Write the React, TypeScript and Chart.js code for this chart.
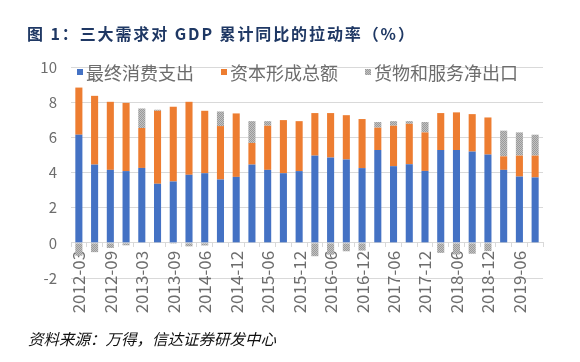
import React, { useEffect, useRef } from 'react';
import { Chart, registerables } from 'chart.js';

Chart.register(...registerables);

const categories = [
  '2012-03', '2012-06', '2012-09', '2012-12',
  '2013-03', '2013-06', '2013-09', '2013-12',
  '2014-06', '2014-09', '2014-12',
  '2015-03', '2015-06', '2015-09', '2015-12',
  '2016-03', '2016-06', '2016-09', '2016-12',
  '2017-03', '2017-06', '2017-09', '2017-12',
  '2018-03', '2018-06', '2018-09', '2018-12',
  '2019-03', '2019-06', '2019-09',
];

const consumption = [
  6.15, 4.45, 4.15, 4.08,
  4.26, 3.36, 3.49, 3.87,
  3.96, 3.6, 3.75,
  4.45, 4.15, 3.96, 4.08,
  4.96, 4.85, 4.74, 4.25,
  5.28, 4.36, 4.47, 4.09,
  5.28, 5.28, 5.19, 5.02,
  4.15, 3.77, 3.72,
];

const capitalFormation = [
  2.68, 3.91, 3.87, 3.88,
  2.27, 4.15, 4.25, 4.15,
  3.55, 3.04, 3.61,
  1.23, 2.51, 3.02, 2.84,
  2.42, 2.53, 2.52, 2.79,
  1.27, 2.3, 2.3, 2.19,
  2.1, 2.14, 2.13, 2.11,
  0.77, 1.19, 1.24,
];

const netExports = [
  -0.73, -0.53, -0.29, -0.14,
  1.11, 0.06, -0.05, -0.2,
  -0.15, 0.83, 0,
  1.24, 0.26, -0.03, -0.03,
  -0.76, -0.67, -0.48, -0.44,
  0.32, 0.26, 0.15, 0.59,
  -0.57, -0.66, -0.62, -0.47,
  1.46, 1.32, 1.19,
];

const seriesNames = ['最终消费支出', '资本形成总额', '货物和服务净出口'];
const yMin = -2;
const yMax = 10;
const yStep = 2;

const titleText = '图 1：三大需求对 GDP 累计同比的拉动率（%）';
const sourceText = '资料来源：万得，信达证券研发中心';

const FONT = '"Noto Sans CJK SC", "Noto Sans", sans-serif';
const TICK_COLOR = '#6d6d6d';
const GRID_COLOR = '#d9d9d9';

function makeDotPattern(): CanvasPattern | string {
  const c = document.createElement('canvas');
  c.width = 2;
  c.height = 2;
  const g = c.getContext('2d');
  if (!g) return '#a5a5a5';
  g.fillStyle = '#c2c2c2';
  g.fillRect(0, 0, 2, 2);
  g.fillStyle = '#9a9a9a';
  g.fillRect(0, 0, 1, 1);
  g.fillRect(1, 1, 1, 1);
  return g.createPattern(c, 'repeat') || '#a5a5a5';
}

const overlayPlugin = {
  id: 'overlayTexts',
  afterDraw(chart: any) {
    const ctx: CanvasRenderingContext2D = chart.ctx;
    ctx.save();
    ctx.textBaseline = 'middle';
    ctx.textAlign = 'left';

    // Title
    ctx.fillStyle = '#1f3864';
    ctx.font = `bold 16px ${FONT}`;
    (ctx as any).letterSpacing = '1.9px';
    ctx.fillText(titleText, 27, 34);
    (ctx as any).letterSpacing = '0px';

    // Legend (inside plot area, top-left)
    ctx.font = `18px ${FONT}`;
    let x = 77;
    const y = 72;
    chart.data.datasets.forEach((ds: any) => {
      ctx.fillStyle = ds.backgroundColor;
      ctx.fillRect(x, y - 3, 6, 6);
      ctx.fillStyle = TICK_COLOR;
      ctx.fillText(ds.label, x + 9, y + 1);
      x += 9 + ctx.measureText(ds.label).width + 27;
    });

    // Source
    ctx.font = `italic 15.5px ${FONT}`;
    ctx.fillStyle = '#111111';
    ctx.fillText(sourceText, 28, 339);
    ctx.restore();
  },
};

export default function App() {
  const canvasRef = useRef<HTMLCanvasElement | null>(null);

  useEffect(() => {
    const canvas = canvasRef.current;
    if (!canvas) return;
    const grayPattern = makeDotPattern();

    const chart = new Chart(canvas, {
      type: 'bar',
      data: {
        labels: categories,
        datasets: [
          {
            label: seriesNames[0],
            data: consumption,
            backgroundColor: '#4472c4',
            barPercentage: 0.45,
            categoryPercentage: 1,
          },
          {
            label: seriesNames[1],
            data: capitalFormation,
            backgroundColor: '#ed7d31',
            barPercentage: 0.45,
            categoryPercentage: 1,
          },
          {
            label: seriesNames[2],
            data: netExports,
            backgroundColor: grayPattern as any,
            barPercentage: 0.45,
            categoryPercentage: 1,
          },
        ],
      },
      options: {
        responsive: false,
        animation: false,
        devicePixelRatio: 1,
        layout: { padding: { left: 0, right: 37, top: 67, bottom: 84 } },
        plugins: {
          legend: { display: false },
          tooltip: { enabled: false },
          title: { display: false },
        },
        scales: {
          x: {
            axis: 'x',
            position: { y: 0 } as any,
            stacked: true,
            grid: {
              drawOnChartArea: false,
              drawTicks: true,
              tickLength: 4,
              color: GRID_COLOR,
            },
            border: { display: true, color: GRID_COLOR, width: 1 },
            ticks: {
              autoSkip: false,
              minRotation: 90,
              maxRotation: 90,
              padding: 4,
              color: TICK_COLOR,
              font: { family: FONT, size: 17 },
              callback: (_v: any, i: number) => (i % 2 === 0 ? categories[i] : ''),
            },
          },
          y: {
            stacked: true,
            min: yMin,
            max: yMax,
            ticks: {
              stepSize: yStep,
              padding: 14,
              color: TICK_COLOR,
              font: { family: FONT, size: 15 },
            },
            grid: { color: GRID_COLOR, drawTicks: false },
            border: { display: false },
            afterFit: (scale: any) => {
              scale.width = 71;
            },
          },
        },
      } as any,
      plugins: [overlayPlugin],
    });

    return () => {
      chart.destroy();
    };
  }, []);

  return (
    <div
      style={{
        position: 'absolute',
        left: 0,
        top: 0,
        width: 580,
        height: 362,
        background: '#ffffff',
      }}
    >
      <canvas ref={canvasRef} width={580} height={362} style={{ display: 'block' }} />
    </div>
  );
}
